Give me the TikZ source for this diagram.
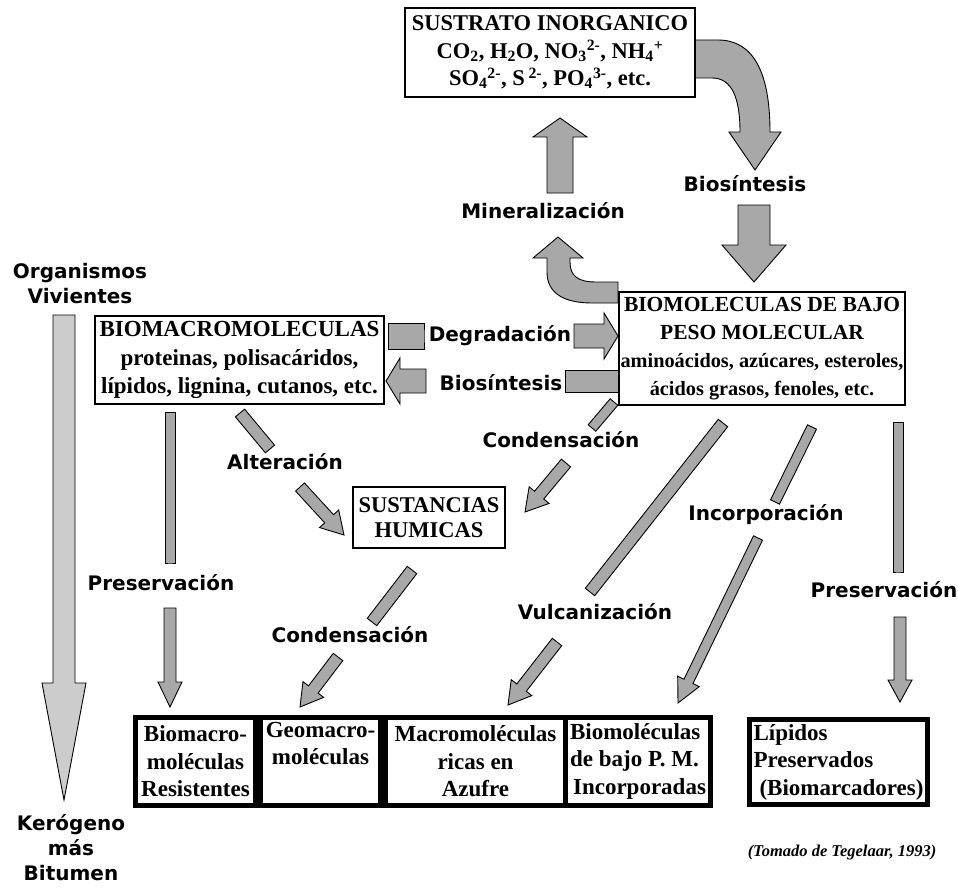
\documentclass[tikz,border=0pt]{standalone}
\usepackage{fontspec}
\setmainfont{Liberation Serif}
\newfontfamily\lblfont{DejaVu Sans}
\usetikzlibrary{calc}
\definecolor{arrowgray}{gray}{0.66}
\definecolor{biggray}{gray}{0.80}
\tikzset{
  blk/.style={fill=arrowgray, draw=black, line width=0.9pt, line join=miter},
  bigblk/.style={blk, fill=biggray},
  lbl/.style={font=\lblfont\bfseries\fontsize{20}{25}\selectfont, inner sep=0pt, align=center},
  sbox/.style={draw, fill=white, line width=1.6pt, align=center, inner sep=0pt, font=\bfseries},
  bbox/.style={draw, fill=white, line width=5pt, inner sep=0pt, font=\bfseries\fontsize{23}{27.5}\selectfont},
}
% block arrow from #2 to #3: shaft half width #4, head half width #5, head length #6
\newcommand\barrow[6][blk]{%
  \path[#1] let \p1=(#2), \p2=(#3), \n1={atan2(\y2-\y1,\x2-\x1)}, \n2={veclen(\x2-\x1,\y2-\y1)} in
  [shift={(\p1)}, rotate=\n1]
  (0pt,-#4pt) -- ({\n2-#6pt},-#4pt) -- ({\n2-#6pt},-#5pt) -- ({\n2+0pt},0pt) -- ({\n2-#6pt},#5pt) -- ({\n2-#6pt},#4pt) -- (0pt,#4pt) -- cycle;}
\begin{document}
\begin{tikzpicture}[x=1pt,y=-1pt]
\useasboundingbox[fill=white] (0,0) rectangle (958,888);
% arrow end points
\coordinate (mu1) at (560,193); \coordinate (mu2) at (560,118);
\coordinate (bd1) at (754,205); \coordinate (bd2) at (754,282);
\coordinate (dg1) at (388,336); \coordinate (dg2) at (424,336);
\coordinate (dg3) at (574,336); \coordinate (dg4) at (618,336);
\coordinate (bm1) at (426,381); \coordinate (bm2) at (386,381);
\coordinate (bm3) at (565,381); \coordinate (bm4) at (618,381);
\coordinate (lp1) at (170,412); \coordinate (lp2) at (170,563);
\coordinate (lp3) at (170,608); \coordinate (lp4) at (170,707);
\coordinate (al1) at (240,413); \coordinate (al2) at (270,449);
\coordinate (al3) at (300,487); \coordinate (al4) at (344,535);
\coordinate (cu1) at (614,402); \coordinate (cu2) at (592,428);
\coordinate (cu3) at (566,463); \coordinate (cu4) at (525,512);
\coordinate (cl1) at (412,570); \coordinate (cl2) at (372,622);
\coordinate (cl3) at (338,657); \coordinate (cl4) at (300,707);
\coordinate (vu1) at (723,423); \coordinate (vu2) at (590,592);
\coordinate (vu3) at (557,642); \coordinate (vu4) at (508,705);
\coordinate (ic1) at (812,427); \coordinate (ic2) at (775,502);
\coordinate (ic3) at (758,538); \coordinate (ic4) at (678,703);
\coordinate (rp1) at (898,422); \coordinate (rp2) at (898,572);
\coordinate (rp3) at (900,617); \coordinate (rp4) at (900,702);
\coordinate (bg1) at (64,315); \coordinate (bg2) at (64,800);
% arrows
\barrow{mu1}{mu2}{13}{27}{19}
\barrow{bd1}{bd2}{16}{32}{37}
\barrow{dg1}{dg2}{13}{13}{0}
\barrow{dg3}{dg4}{12}{23}{14}
\barrow{bm1}{bm2}{12}{23}{14}
\barrow{bm3}{bm4}{11}{11}{0}
\barrow{lp1}{lp2}{5}{5}{0}
\barrow{lp3}{lp4}{6}{12}{25}
\barrow{al1}{al2}{6}{6}{0}
\barrow{al3}{al4}{6}{13}{22}
\barrow{cu1}{cu2}{5}{5}{0}
\barrow{cu3}{cu4}{6}{13}{22}
\barrow{cl1}{cl2}{6}{6}{0}
\barrow{cl3}{cl4}{6}{13}{22}
\barrow{vu1}{vu2}{6}{6}{0}
\barrow{vu3}{vu4}{6}{13}{22}
\barrow{ic1}{ic2}{5}{5}{0}
\barrow{ic3}{ic4}{5}{12}{24}
\barrow{rp1}{rp2}{5}{5}{0}
\barrow{rp3}{rp4}{6}{12}{22}
\barrow[bigblk]{bg1}{bg2}{11}{22}{117}
% curved arrows
\path[blk] (695,40) -- (718,40) .. controls (752,40) and (770,70) .. (770,132) -- (781,132) -- (755,170) -- (729,132) -- (740,132) .. controls (740,98) and (732,78) .. (712,78) -- (695,78) -- cycle;
\path[blk] (618,282) -- (596,282) .. controls (578,282) and (570,276) .. (570,262) -- (570,258) -- (583,258) -- (558,237) -- (533,258) -- (547,258) -- (547,272) .. controls (547,294) and (565,303) .. (592,303) -- (618,303) -- cycle;
% boxes
\node[sbox, minimum width=290pt, minimum height=89pt, font=\bfseries\fontsize{22.5}{27.5}\selectfont] (sust) at (550,52.5)
  {SUSTRATO INORGANICO\\ CO\textsubscript{2}, H\textsubscript{2}O, NO\textsubscript{3}\textsuperscript{2-}, NH\textsubscript{4}\textsuperscript{+}\\ SO\textsubscript{4}\textsuperscript{2-}, S\,\textsuperscript{2-}, PO\textsubscript{4}\textsuperscript{3-}, etc.};
\node[sbox, minimum width=286pt, minimum height=113pt, font=\bfseries\fontsize{21.5}{28}\selectfont] (bio) at (762,348.5)
  {BIOMOLECULAS DE BAJO\\ PESO MOLECULAR\\ \fontsize{20.3}{28}\selectfont aminoácidos, azúcares, esteroles,\\ \fontsize{20.3}{26}\selectfont ácidos grasos, fenoles, etc.};
\node[sbox, minimum width=289pt, minimum height=88pt, font=\bfseries\fontsize{23}{28.5}\selectfont] (macro) at (239.5,360)
  {BIOMACROMOLECULAS\\ proteinas, polisacáridos,\\ lípidos, lignina, cutanos, etc.};
\node[sbox, minimum width=152pt, minimum height=61pt, font=\bfseries\fontsize{22.5}{25}\selectfont] (hum) at (429,517.5)
  {SUSTANCIAS\\ HUMICAS};
% bottom boxes
\node[bbox, minimum width=120pt, minimum height=87.5pt, align=center] (b1) at (195.5,761.25) {Biomacro-\\ moléculas\\ Resistentes};
\node[bbox, minimum width=120pt, minimum height=87.5pt, align=center] (b2) at (320.5,761.25) {Geomacro-\\ moléculas\\ \strut};
\node[bbox, minimum width=180pt, minimum height=87.5pt, align=center] (b3) at (475.5,761.25) {Macromoléculas\\ ricas en\\ Azufre};
\node[bbox, minimum width=145pt, minimum height=87.5pt, align=left] (b4) at (638,761.25) {Biomoléculas\\ de bajo P. M.\\ \hspace*{3pt}Incorporadas};
\node[bbox, minimum width=178pt, minimum height=85pt, align=left] (b5) at (838.5,762) {Lípidos\\ Preservados\\ \hspace*{6pt}(Biomarcadores)};
% labels
\node[lbl] (tmin) at (543,211) {Mineralización};
\node[lbl] (tbio1) at (745,184) {Biosíntesis};
\node[lbl] (tdeg) at (500,336) {Degradación};
\node[lbl] (tbio2) at (501,383) {Biosíntesis};
\node[lbl] (torg) at (80,284) {Organismos\\ Vivientes};
\node[lbl] (talt) at (285,462) {Alteración};
\node[lbl] (tcon1) at (561,440) {Condensación};
\node[lbl] (tcon2) at (350,635) {Condensación};
\node[lbl] (tpres1) at (161,583) {Preservación};
\node[lbl] (tvul) at (595,612) {Vulcanización};
\node[lbl] (tinc) at (766,515) {Incorporación};
\node[lbl] (tpres2) at (884,590) {Preservación};
\node[lbl] (tker) at (71,848) {Kerógeno\\ más\\ Bitumen};
\node[font=\bfseries\itshape\fontsize{16.5}{19}\selectfont, inner sep=0pt] (cred) at (842,853) {(Tomado de Tegelaar, 1993)};
\end{tikzpicture}
\end{document}
